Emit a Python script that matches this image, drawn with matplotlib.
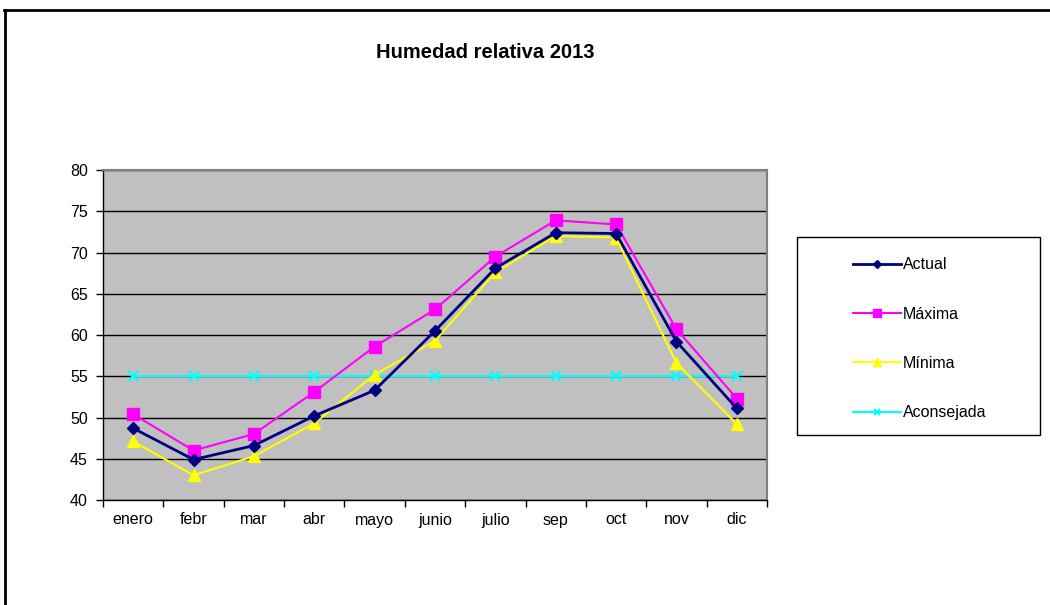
import matplotlib.pyplot as plt
from matplotlib.patches import Rectangle
from matplotlib.lines import Line2D

plt.rcParams['font.family'] = ['Liberation Sans', 'DejaVu Sans']

meses = ['enero', 'febr', 'mar', 'abr', 'mayo', 'junio', 'julio', 'sep', 'oct', 'nov', 'dic']
actual = [48.7, 44.9, 46.6, 50.2, 53.3, 60.5, 68.1, 72.4, 72.3, 59.2, 51.1]
maxima = [50.4, 46.0, 48.0, 53.1, 58.6, 63.1, 69.5, 73.9, 73.4, 60.7, 52.3]
minima = [47.1, 43.0, 45.3, 49.3, 55.2, 59.3, 67.6, 72.0, 71.8, 56.6, 49.2]
aconsejada = [55] * 11

fig = plt.figure(figsize=(10.5, 6.05), dpi=100, facecolor='white')
ax = fig.add_axes([103 / 1050, 1 - 500 / 605, 664 / 1050, 330 / 605])
ax.set_facecolor('#C0C0C0')

x = list(range(len(meses)))
ax.plot(x, actual, color='#000080', lw=2, marker='D', ms=6, label='Actual', zorder=5)
ax.plot(x, maxima, color='#FF00FF', lw=1.5, marker='s', ms=8, label='Máxima', zorder=4)
ax.plot(x, minima, color='#FFFF00', lw=1.5, marker='^', ms=9, label='Mínima', zorder=4)
ax.plot(x, aconsejada, color='#00FFFF', lw=1.5, marker='x', ms=7, mew=1.5, label='Aconsejada', zorder=3)

ax.set_xlim(-0.5, len(meses) - 0.5)
ax.set_ylim(40, 80)
ax.set_yticks(range(40, 81, 5))
ax.yaxis.grid(True, color='black', lw=1)
ax.set_axisbelow(True)

ax.set_xticks(x)
ax.set_xticklabels(meses)
ax.set_xticks([i - 0.5 for i in range(len(meses) + 1)], minor=True)
ax.tick_params(axis='x', which='major', length=0, pad=9, labelsize=11.5)
ax.tick_params(axis='x', which='minor', length=5, width=1, direction='out')
ax.tick_params(axis='y', length=5, width=1, direction='out', pad=6, labelsize=11.5)

for s in ['top', 'right']:
    ax.spines[s].set_color('#808080')
    ax.spines[s].set_linewidth(1.5)
for s in ['left', 'bottom']:
    ax.spines[s].set_color('black')
    ax.spines[s].set_linewidth(1)

fig.text(485 / 1050, 1 - 52 / 605, 'Humedad relativa 2013', ha='center', va='center',
         fontsize=14.5, fontweight='bold')

# legend box
fig.patches.append(Rectangle((797 / 1050, 1 - 435 / 605), 243 / 1050, 198 / 605,
                             transform=fig.transFigure, facecolor='white',
                             edgecolor='black', lw=1, zorder=1))
handles, labels = ax.get_legend_handles_labels()
leg = fig.legend(handles, labels, loc='upper left', bbox_to_anchor=(839 / 1050, 1 - 243 / 605),
                 bbox_transform=fig.transFigure, frameon=False, fontsize=11.5,
                 handlelength=3.0, handletextpad=0.1, labelspacing=2.15, markerscale=0.7)
leg.set_zorder(6)

# outer frame (top and left edges)
fig.add_artist(Line2D([5 / 1050, 5 / 1050], [0, 1 - 10 / 605], transform=fig.transFigure,
                      color='black', lw=2))
fig.add_artist(Line2D([4 / 1050, 1], [1 - 10 / 605, 1 - 10 / 605], transform=fig.transFigure,
                      color='black', lw=2))

fig.savefig('out.png', dpi=100, facecolor='white')
